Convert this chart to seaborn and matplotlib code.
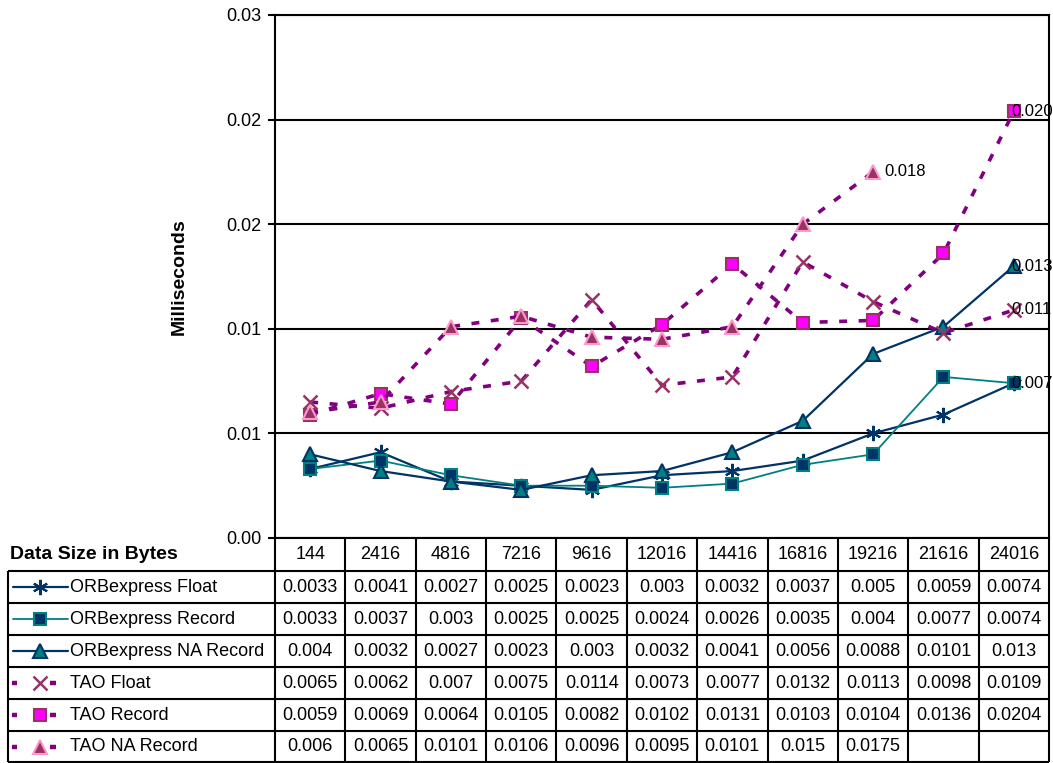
import numpy as np
import pandas as pd
import matplotlib
matplotlib.use("Agg")
import matplotlib.pyplot as plt
from matplotlib.transforms import blended_transform_factory
import seaborn as sns

# ---- data -------------------------------------------------------------
sizes = ["144", "2416", "4816", "7216", "9616", "12016",
         "14416", "16816", "19216", "21616", "24016"]

orb_float = [0.0033, 0.0041, 0.0027, 0.0025, 0.0023, 0.003,
             0.0032, 0.0037, 0.005, 0.0059, 0.0074]
orb_record = [0.0033, 0.0037, 0.003, 0.0025, 0.0025, 0.0024,
              0.0026, 0.0035, 0.004, 0.0077, 0.0074]
orb_na_record = [0.004, 0.0032, 0.0027, 0.0023, 0.003, 0.0032,
                 0.0041, 0.0056, 0.0088, 0.0101, 0.013]
tao_float = [0.0065, 0.0062, 0.007, 0.0075, 0.0114, 0.0073,
             0.0077, 0.0132, 0.0113, 0.0098, 0.0109]
tao_record = [0.0059, 0.0069, 0.0064, 0.0105, 0.0082, 0.0102,
              0.0131, 0.0103, 0.0104, 0.0136, 0.0204]
tao_na_record = [0.006, 0.0065, 0.0101, 0.0106, 0.0096, 0.0095,
                 0.0101, 0.015, 0.0175, np.nan, np.nan]

series_names = ["ORBexpress Float", "ORBexpress Record", "ORBexpress NA Record",
                "TAO Float", "TAO Record", "TAO NA Record"]
series_values = [orb_float, orb_record, orb_na_record,
                 tao_float, tao_record, tao_na_record]

y_ticks = [0.0, 0.005, 0.01, 0.015, 0.02, 0.025]
y_tick_labels = ["0.00", "0.01", "0.01", "0.02", "0.02", "0.03"]

# (series, category index) pairs that carry a value label
labelled_points = [("TAO Record", 10), ("TAO NA Record", 8),
                   ("ORBexpress NA Record", 10), ("TAO Float", 10),
                   ("ORBexpress Record", 10)]

# ---- styles -----------------------------------------------------------
NAVY, TEAL, PURPLE, MAUVE = "#003366", "#008080", "#800080", "#993366"
MAGENTA, PINK = "#FF00FF", "#FF99CC"
DASH = (0, (2.2, 3.2))
styles = {
    "ORBexpress Float": dict(color=NAVY, lw=1.6, ls="-", marker=(6, 2, 0),
                             ms=11, mfc=NAVY, mec=NAVY, mew=1.5),
    "ORBexpress Record": dict(color=TEAL, lw=1.3, ls="-", marker="s",
                              ms=9, mfc=NAVY, mec=TEAL, mew=1.5),
    "ORBexpress NA Record": dict(color=NAVY, lw=1.6, ls="-", marker="^",
                                 ms=10, mfc=TEAL, mec=NAVY, mew=1.5),
    "TAO Float": dict(color=PURPLE, lw=2.6, ls=DASH, marker="x",
                      ms=10, mfc=MAUVE, mec=MAUVE, mew=1.8),
    "TAO Record": dict(color=PURPLE, lw=2.6, ls=DASH, marker="s",
                       ms=9, mfc=MAGENTA, mec=MAUVE, mew=1.5),
    "TAO NA Record": dict(color=PURPLE, lw=2.6, ls=DASH, marker="^",
                          ms=10, mfc=MAUVE, mec=PINK, mew=1.5),
}

sns.set_theme(style="white")
plt.rcParams["font.family"] = ["Liberation Sans", "DejaVu Sans"]
plt.rcParams["font.size"] = 13

W, H = 1053, 763
fig = plt.figure(figsize=(W / 100, H / 100), dpi=100)
fig.patch.set_facecolor("white")

L, R, T, B = 275, 1049, 15, 538
ax = fig.add_axes([L / W, (H - B) / H, (R - L) / W, (B - T) / H])
over = fig.add_axes([0, 0, 1, 1])
over.set_xlim(0, W)
over.set_ylim(H, 0)
over.axis("off")

pos = np.arange(len(sizes))
for name, vals in zip(series_names, series_values):
    df = pd.DataFrame({"pos": pos, "value": vals})
    st = styles[name]
    sns.lineplot(data=df, x="pos", y="value", ax=ax, estimator=None, sort=False,
                 color=st["color"], linewidth=st["lw"], linestyle=st["ls"],
                 marker=st["marker"], markersize=st["ms"],
                 markerfacecolor=st["mfc"], markeredgecolor=st["mec"],
                 markeredgewidth=st["mew"], clip_on=False)

ax.set_xlim(-0.5, len(sizes) - 0.5)
ax.set_ylim(0, 0.025)
ax.set_xticks([])
ax.set_xlabel("")
ax.set_yticks(y_ticks)
ax.set_yticklabels(y_tick_labels, fontsize=13)
ax.tick_params(axis="y", direction="out", length=5, width=1.5, pad=5,
               colors="black", left=True)
ax.yaxis.grid(True, color="black", lw=1.5)
ax.set_axisbelow(True)
for sp in ax.spines.values():
    sp.set_visible(True)
    sp.set_color("black")
    sp.set_linewidth(1.5)
ax.set_ylabel("Milliseconds", fontsize=14, fontweight="bold", color="black")
ax.yaxis.set_label_coords(-0.113, 0.5)

# value labels
lookup = dict(zip(series_names, series_values))
for name, idx in labelled_points:
    v = lookup[name][idx]
    dx = -2 if idx == len(sizes) - 1 else 8
    ax.annotate(f"{v:.3f}", (idx, v), xytext=(dx, 0), textcoords="offset points",
                ha="left", va="center", fontsize=12, color="black",
                annotation_clip=False)

# ---- data table -------------------------------------------------------
trans = blended_transform_factory(ax.transData, over.transData)
row_edges = [571, 603, 635, 667, 699, 731, 762]
TL = 8
line_kw = dict(color="black", lw=1.5, clip_on=False, solid_capstyle="butt")

for i in range(len(sizes) + 1):
    over.plot([i - 0.5, i - 0.5], [B, row_edges[-1]], transform=trans, **line_kw)
for y in row_edges:
    over.plot([TL, R], [y, y], **line_kw)
over.plot([TL, TL], [row_edges[0], row_edges[-1]], **line_kw)

header_y = (B + row_edges[0]) / 2
over.text(10, header_y, "Data Size in Bytes", ha="left", va="center",
          fontsize=14, fontweight="bold", color="black")
for i, s in enumerate(sizes):
    over.text(i, header_y, s, transform=trans, ha="center", va="center",
              fontsize=13, color="black")

for r, (name, vals) in enumerate(zip(series_names, series_values)):
    yc = (row_edges[r] + row_edges[r + 1]) / 2
    st = styles[name]
    if st["ls"] == "-":
        over.plot([13, 68], [yc, yc], color=st["color"], lw=st["lw"],
                  clip_on=False)
    else:
        for x0, x1 in [(12, 17), (50, 56)]:
            over.plot([x0, x1], [yc, yc], color=st["color"], lw=3.2,
                      solid_capstyle="butt", clip_on=False)
    over.plot([40], [yc], linestyle="none", marker=st["marker"],
              markersize=st["ms"], markerfacecolor=st["mfc"],
              markeredgecolor=st["mec"], markeredgewidth=st["mew"],
              clip_on=False)
    over.text(70, yc, name, ha="left", va="center", fontsize=13, color="black")
    for i, v in enumerate(vals):
        if np.isnan(v):
            continue
        over.text(i, yc, f"{v:g}", transform=trans, ha="center", va="center",
                  fontsize=13, color="black")

fig.savefig("out.png", dpi=100, facecolor="white")
